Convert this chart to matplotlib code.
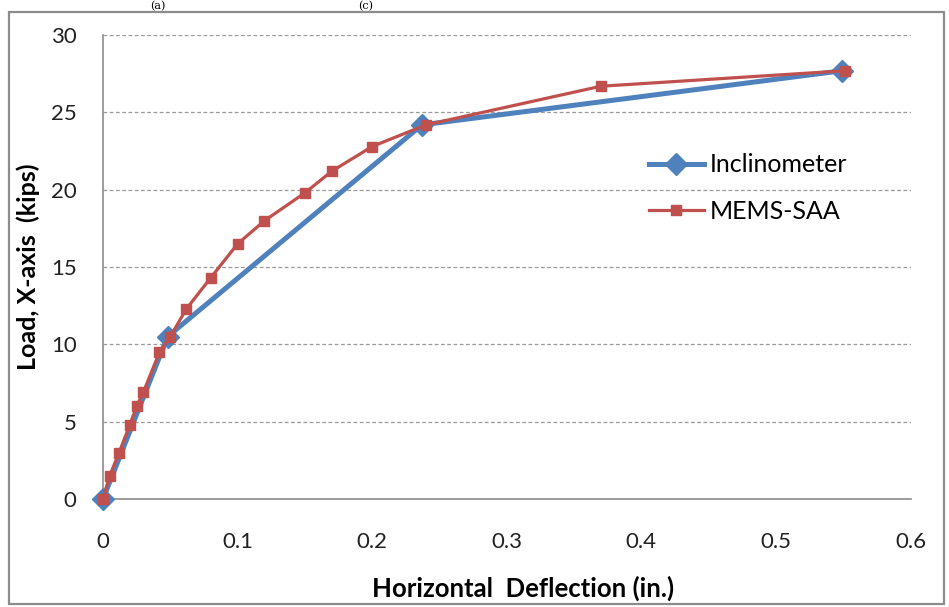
import matplotlib.pyplot as plt
from matplotlib.patches import Rectangle

incl_x = [0, 0.048, 0.237, 0.549]
incl_y = [0, 10.5, 24.2, 27.7]

mems_x = [0, 0.005, 0.012, 0.02, 0.025, 0.03, 0.042, 0.05, 0.062, 0.08,
          0.1, 0.12, 0.15, 0.17, 0.2, 0.24, 0.37, 0.551]
mems_y = [0, 1.5, 3.0, 4.8, 6.0, 6.9, 9.5, 10.5, 12.3, 14.3,
          16.5, 18.0, 19.8, 21.2, 22.8, 24.2, 26.7, 27.7]

x_ticks = [0, 0.1, 0.2, 0.3, 0.4, 0.5, 0.6]
x_labels = ["0", "0.1", "0.2", "0.3", "0.4", "0.5", "0.6"]
y_ticks = [0, 5, 10, 15, 20, 25, 30]

plt.rcParams["font.family"] = ["Lato", "DejaVu Sans"]

fig = plt.figure(figsize=(9.49, 6.07), dpi=100)
ax = fig.add_axes([0.1085, 0.178, 0.851, 0.764])

ax.plot(incl_x, incl_y, color="#4F81BD", lw=3.6, marker="D", ms=11,
        label="Inclinometer", zorder=3, clip_on=False)
ax.plot(mems_x, mems_y, color="#C0504D", lw=2.3, marker="s", ms=7,
        label="MEMS-SAA", zorder=4, clip_on=False)

ax.set_xlim(0, 0.6)
ax.set_ylim(0, 30)
ax.set_xticks(x_ticks)
ax.set_xticklabels(x_labels)
ax.set_yticks(y_ticks)
ax.tick_params(length=0, labelsize=16, colors="#222222")
ax.tick_params(axis="x", pad=24)
ax.tick_params(axis="y", pad=19)

ax.yaxis.grid(True, linestyle=(0, (3, 2)), color="#999999", lw=0.9)
ax.set_axisbelow(True)
for s in ["top", "right"]:
    ax.spines[s].set_visible(False)
for s in ["left", "bottom"]:
    ax.spines[s].set_color("#8c8c8c")
    ax.spines[s].set_linewidth(1.2)

ax.set_xlabel("Horizontal  Deflection (in.)", fontsize=18.5, fontweight="bold")
ax.set_ylabel("Load, X-axis  (kips)", fontsize=18, fontweight="bold")
ax.xaxis.set_label_coords(0.52, -0.165)
ax.yaxis.set_label_coords(-0.078, 0.5)

ax.legend(loc="center left", bbox_to_anchor=(0.648, 0.67), frameon=False,
          fontsize=18, handlelength=2.2, labelspacing=0.95, handletextpad=0.25)

fig.patches.append(Rectangle((0.009, 0.005), 0.986, 0.975, transform=fig.transFigure,
                             fill=False, edgecolor="#8c8c8c", lw=1.6))
fig.text(0.166, 0.999, "(a)", fontsize=8, ha="center", va="top", family="DejaVu Serif")
fig.text(0.385, 0.999, "(c)", fontsize=8, ha="center", va="top", family="DejaVu Serif")

fig.savefig("out.png", dpi=100)
